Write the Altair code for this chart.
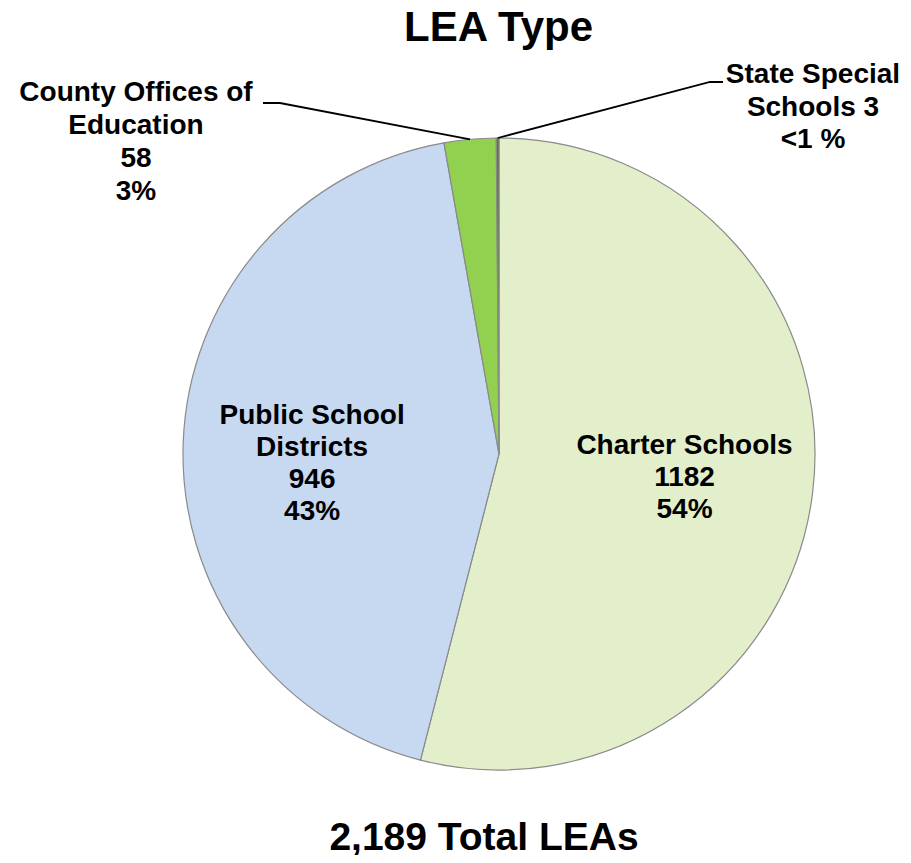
import math
import altair as alt
import pandas as pd

# ---- data ----
categories = ["Charter Schools", "Public School Districts", "County Offices of Education", "State Special Schools"]
counts = [1182, 946, 58, 3]
pct_labels = ["54%", "43%", "3%", "<1 %"]
inner_labels = ["Charter Schools\n1182\n54%", "Public School\nDistricts\n946\n43%", "", ""]
county_label = "County Offices of\nEducation\n58\n3%"
state_label = "State Special\nSchools 3\n<1 %"
title_text = "LEA Type"
total_text = "2,189 Total LEAs"
colors = ["#E3EFCB", "#C6D9F1", "#92D050", "#4F7F22"]

# ---- layout (pixels) ----
W, H = 895, 847
CX, CY, R = 491, 446, 316
FONT = "Liberation Sans"

df = pd.DataFrame({
    "cat": categories,
    "count": counts,
    "idx": list(range(len(categories))),
    "inner": inner_labels,
})

total = sum(counts)
cum = 0
mids = []
for c in counts:
    mids.append((cum + c / 2) / total * 2 * math.pi)
    cum += c

def edge_point(i):
    a = mids[i]
    return CX + R * math.sin(a), CY - R * math.cos(a)

# leader lines: pie edge -> elbow -> label end
ex, ey = edge_point(2)
sx, sy = edge_point(3)
lines = pd.DataFrame([
    {"g": "county", "o": 0, "x": ex, "y": ey},
    {"g": "county", "o": 1, "x": 272, "y": 95},
    {"g": "county", "o": 2, "x": 255, "y": 95},
    {"g": "state", "o": 0, "x": sx, "y": sy},
    {"g": "state", "o": 1, "x": 702, "y": 74},
    {"g": "state", "o": 2, "x": 715, "y": 74},
])

base = alt.Chart(df)

pie = base.mark_arc(outerRadius=R, stroke="#8a8a8a", strokeWidth=1.2).encode(
    theta=alt.Theta("count:Q", stack=True),
    order=alt.Order("idx:Q"),
    color=alt.Color("cat:N", scale=alt.Scale(domain=categories, range=colors), legend=None),
    x=alt.value(CX),
    y=alt.value(CY),
)

inner = base.mark_text(
    radius=187, dy=-31, font=FONT, fontSize=28, fontWeight="bold", lineBreak="\n",
    lineHeight=32, align="center", baseline="middle", color="black",
).encode(
    theta=alt.Theta("count:Q", stack=True),
    order=alt.Order("idx:Q"),
    text="inner:N",
    x=alt.value(CX),
    y=alt.value(CY),
)

leader = alt.Chart(lines).mark_line(color="black", strokeWidth=1.8).encode(
    x=alt.X("x:Q", scale=None),
    y=alt.Y("y:Q", scale=None),
    detail="g:N",
    order="o:Q",
)

def label(txt, x, y, size=28, lh=32.5):
    return alt.Chart(pd.DataFrame({"t": [txt]})).mark_text(
        font=FONT, fontSize=size, fontWeight="bold", lineBreak="\n", lineHeight=lh,
        align="center", baseline="middle", color="black",
    ).encode(text="t:N", x=alt.value(x), y=alt.value(y))

county = label(county_label, 128, 85, lh=33)
state = label(state_label, 805, 67)

title = alt.Chart(pd.DataFrame({"t": [title_text]})).mark_text(
    font=FONT, fontSize=42, fontWeight="bold", baseline="alphabetic", align="center", color="black"
).encode(text="t:N", x=alt.value(490.5), y=alt.value(33))

bottom = alt.Chart(pd.DataFrame({"t": [total_text]})).mark_text(
    font=FONT, fontSize=39, fontWeight="bold", baseline="alphabetic", align="center", color="black"
).encode(text="t:N", x=alt.value(476), y=alt.value(842))

chart = alt.layer(pie, inner, leader, county, state, title, bottom).properties(
    width=W, height=H, autosize=alt.AutoSizeParams(type="none"), padding=0,
    background="white",
).configure_view(stroke=None)

chart.save("out.html", embed_options={"renderer": "svg", "actions": False})
